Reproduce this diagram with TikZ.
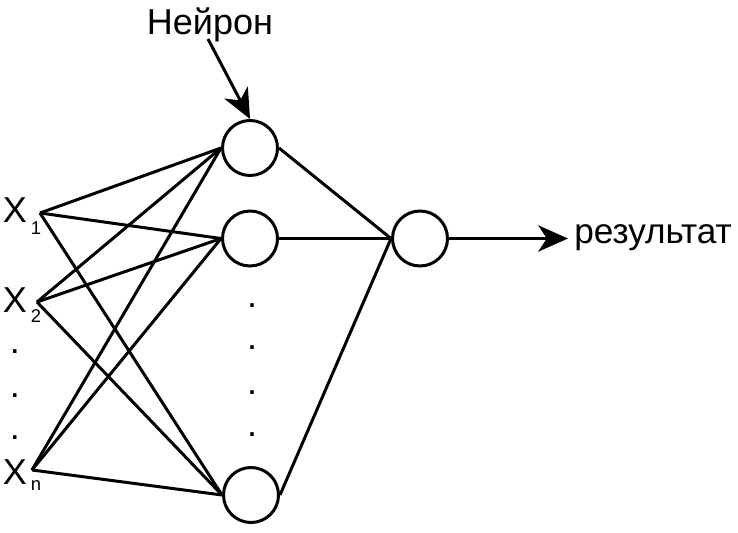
\documentclass[tikz,border=0pt]{standalone}
\usepackage{fontspec}
\setmainfont{Liberation Sans}
\usetikzlibrary{arrows.meta}
\tikzstyle{neuron}=[circle, draw, line width=1.7pt, minimum size=1.1cm, inner sep=0pt]
\tikzstyle{txt}=[inner sep=0pt, font=\fontsize{20.5}{24}\selectfont]
\tikzstyle{sub}=[inner sep=0pt, font=\fontsize{10.5}{12}\selectfont]
\tikzstyle{link}=[draw, line width=1.7pt]
\tikzstyle{bigarrow}=[line width=1.7pt, -{Stealth[length=17pt, width=15pt, inset=5pt]}]

\begin{document}
\begin{tikzpicture}
		   \useasboundingbox (0, 0) rectangle (14.76, -10.66);
		   \begin{scope}
			   \node (n1) at (5.0, -2.96) [neuron] {};
			   \node (n2) at (5.0, -4.77) [neuron] {};
			   \node (n3) at (5.02, -9.9) [neuron] {};
			   \node (out) at (8.4, -4.77) [neuron] {};

			   \node (lbl) at (4.2, -0.5) [txt] {Нейрон};
			   \coordinate (ls) at (4.16, -0.78);
			   \node (res) at (11.36, -4.77) [txt, font=\fontsize{20}{24}\selectfont, anchor=mid west, inner xsep=3.4pt] {результат};

			   \node (x1) at (0.3, -4.2) [txt] {X};
			   \node (s1) at (0.72, -4.56) [sub] {1};
			   \node (x2) at (0.3, -6.0) [txt] {X};
			   \node (s2) at (0.72, -6.32) [sub] {2};
			   \node (xn) at (0.3, -9.44) [txt] {X};
			   \node (sn) at (0.72, -9.72) [sub] {n};

			   \coordinate (a1) at (0.8, -4.26);
			   \coordinate (a2) at (0.74, -6.04);
			   \coordinate (an) at (0.64, -9.4);

			   \node (d1) at (0.3, -7.04) [txt] {.};
			   \node (d2) at (0.3, -7.92) [txt] {.};
			   \node (d3) at (0.3, -8.76) [txt] {.};

			   \node (e1) at (5.04, -6.12) [txt] {.};
			   \node (e2) at (5.04, -6.96) [txt] {.};
			   \node (e3) at (5.04, -7.86) [txt] {.};
			   \node (e4) at (5.04, -8.7) [txt] {.};
		   \end{scope}
		   \begin{scope}
			   \path [link] (a1) edge (n1.west);
			   \path [link] (a1) edge (n2.west);
			   \path [link] (a1) edge (n3.west);
			   \path [link] (a2) edge (n1.west);
			   \path [link] (a2) edge (n2.west);
			   \path [link] (a2) edge (n3.west);
			   \path [link] (an) edge (n1.west);
			   \path [link] (an) edge (n2.west);
			   \path [link] (an) edge (n3.west);

			   \path [link] (n1.east) edge (out.west);
			   \path [link] (n2.east) edge (out.west);
			   \path [link] (n3.east) edge (out.west);

			   \draw [bigarrow] (ls) -- (n1.north);
			   \draw [bigarrow] (out.east) -- (res.mid west);
		   \end{scope}
\end{tikzpicture}
\end{document}
